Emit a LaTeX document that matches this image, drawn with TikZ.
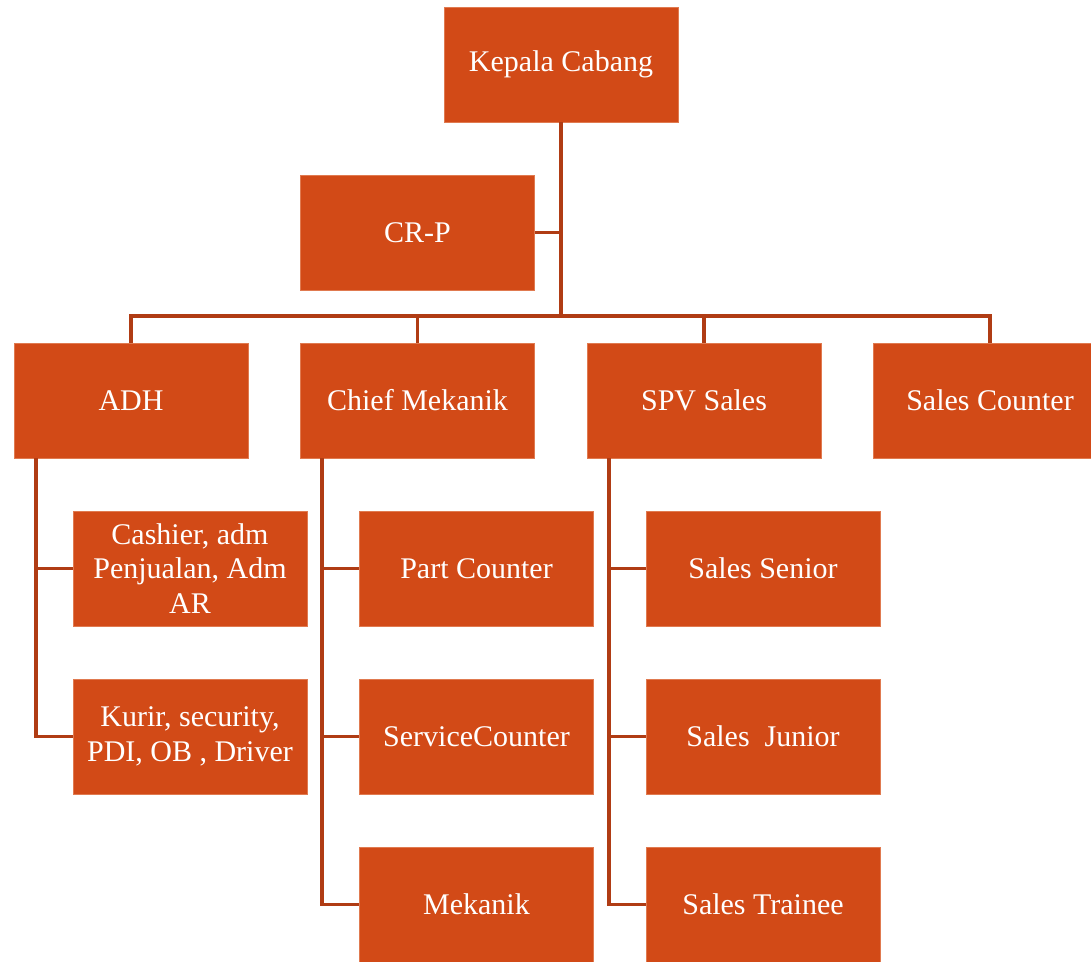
\documentclass[tikz,border=0pt]{standalone}
\usepackage{fontspec}
\setmainfont{Liberation Serif}
\usetikzlibrary{positioning}
\definecolor{boxfill}{HTML}{D24A17}
\definecolor{boxedge}{HTML}{E07A50}
\definecolor{linkred}{HTML}{B03C14}
\tikzset{
  unitbox/.style={draw=boxedge, line width=0.6pt, fill=boxfill, text=white,
    minimum width=175.5pt, minimum height=86.25pt, align=center,
    inner sep=2pt, font=\fontsize{22.5}{26}\selectfont},
  link/.style={draw=linkred, line width=2.3pt}
}
\begin{document}
\begin{tikzpicture}[x=0.75pt, y=-0.75pt]
  \useasboundingbox (0,0) rectangle (1091,961);
  % top level
  \node[unitbox] (kepala) at (561,64.5) {Kepala Cabang};
  \node[unitbox] (crp) at (417.5,232.5) {CR-P};
  % second level
  \node[unitbox] (adh) at (131,400.5) {ADH};
  \node[unitbox] (chief) at (417.5,400.5) {Chief Mekanik};
  \node[unitbox] (spv) at (704,400.5) {SPV Sales};
  \node[unitbox] (salescounter) at (990,400.5) {Sales Counter};
  % under ADH
  \node[unitbox] (cashier) at (190,568.5) {Cashier, adm\\Penjualan, Adm\\AR};
  \node[unitbox] (kurir) at (190,736.5) {Kurir, security,\\PDI, OB , Driver};
  % under Chief Mekanik
  \node[unitbox] (partcounter) at (476.5,568.5) {Part Counter};
  \node[unitbox] (servicecounter) at (476.5,736.5) {ServiceCounter};
  \node[unitbox] (mekanik) at (476.5,904.5) {Mekanik};
  % under SPV Sales
  \node[unitbox] (senior) at (763,568.5) {Sales Senior};
  \node[unitbox] (junior) at (763,736.5) {Sales~~Junior};
  \node[unitbox] (trainee) at (763,904.5) {Sales Trainee};

  % connectors
  \coordinate (bus) at (561,316);
  \draw[link] (kepala.south) -- (bus);
  \draw[link] (crp.east) -- (crp.east -| kepala.south);
  \draw[link] (adh.north) -- (adh.north |- bus) -- (salescounter.north |- bus) -- (salescounter.north);
  \draw[link] (chief.north) -- (chief.north |- bus);
  \draw[link] (spv.north) -- (spv.north |- bus);

  \coordinate (adhspine) at (36,458);
  \draw[link] (adhspine) |- (kurir.west);
  \draw[link] (adhspine |- cashier.west) -- (cashier.west);
  \coordinate (chiefspine) at (322,458);
  \draw[link] (chiefspine) |- (mekanik.west);
  \draw[link] (chiefspine |- partcounter.west) -- (partcounter.west);
  \draw[link] (chiefspine |- servicecounter.west) -- (servicecounter.west);
  \coordinate (spvspine) at (609,458);
  \draw[link] (spvspine) |- (trainee.west);
  \draw[link] (spvspine |- senior.west) -- (senior.west);
  \draw[link] (spvspine |- junior.west) -- (junior.west);
\end{tikzpicture}
\end{document}
